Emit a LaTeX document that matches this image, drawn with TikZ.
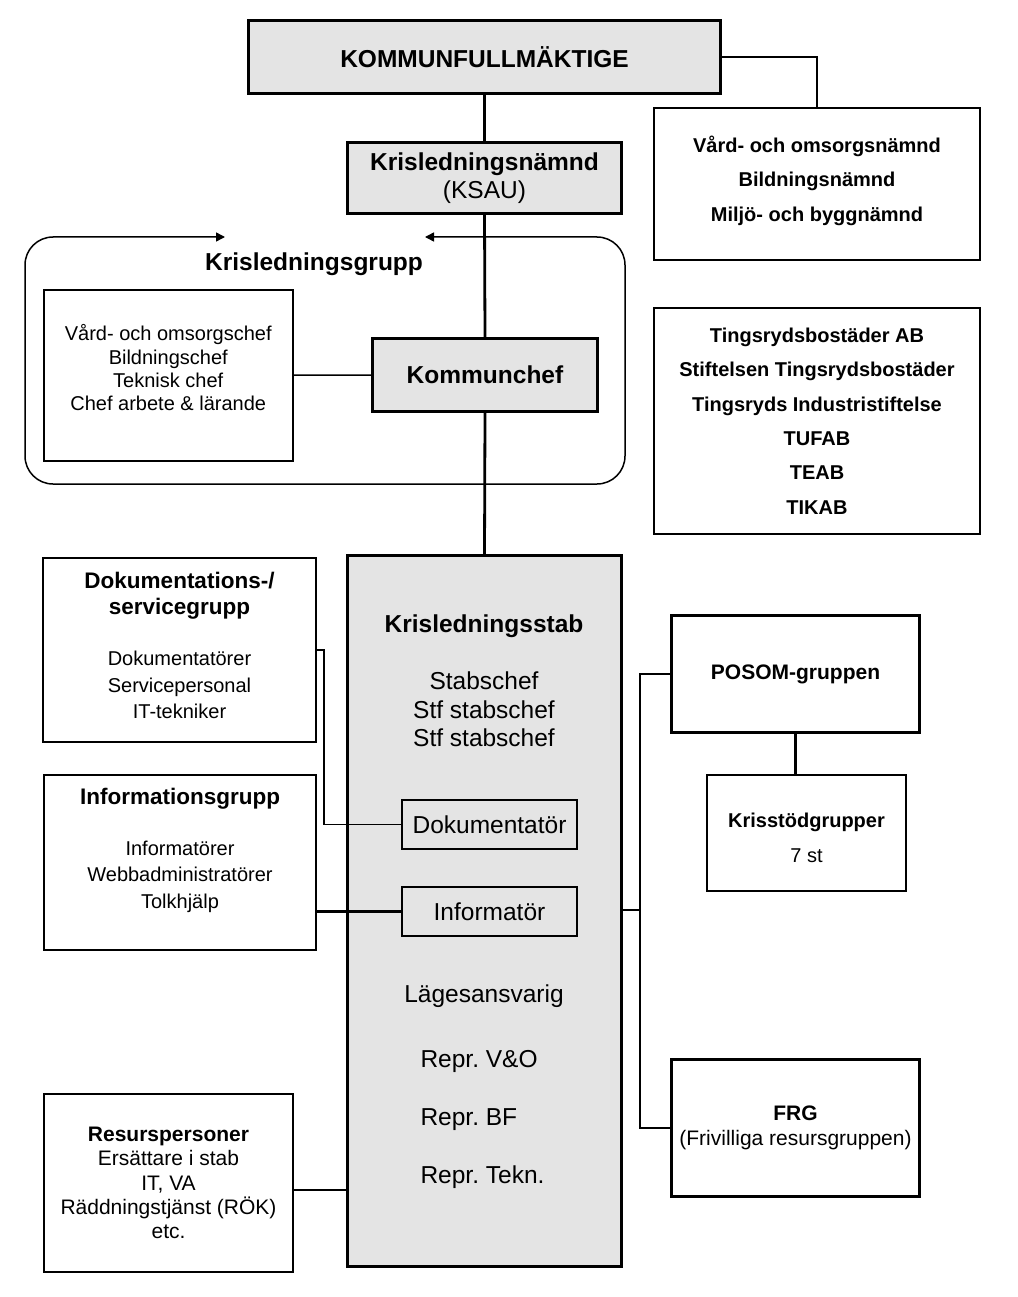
\documentclass[tikz,border=0pt]{standalone}
\usepackage{fontspec}
\setmainfont{Liberation Sans}
\usetikzlibrary{arrows.meta}
\frenchspacing
\definecolor{kgray}{HTML}{E4E4E4}
\tikzset{
  gbox/.style={draw, line width=3pt, fill=kgray, inner sep=0pt, align=center, anchor=north west},
  gsmall/.style={draw, line width=2pt, fill=kgray, inner sep=0pt, align=center, anchor=north west},
  wbox/.style={draw, line width=2pt, fill=white, inner sep=0pt, align=center, anchor=north west},
  wthick/.style={draw, line width=3pt, fill=white, inner sep=0pt, align=center, anchor=north west},
  wthin/.style={draw, line width=1.5pt, fill=white, inner sep=0pt, align=center, anchor=north west},
  conn/.style={line width=2.8pt},
  midconn/.style={line width=2pt},
  thinconn/.style={line width=1.5pt},
  big/.style={font=\fontsize{24.5}{28}\selectfont},
  bigb/.style={font=\bfseries\fontsize{24.5}{28}\selectfont},
}
\begin{document}
\begin{tikzpicture}[x=1pt,y=-1pt]
\useasboundingbox[fill=white] (0,0) rectangle (1017,1297);

% frame of Krisledningsgrupp
\draw[line width=1.5pt, rounded corners=28pt, {Triangle[length=9pt,width=9pt]}-{Triangle[length=9pt,width=9pt]}]
  (225,237) -- (25,237) -- (25,484) -- (625,484) -- (625,237) -- (425,237);
\node[bigb] (klg) at (314,264) {Krisledningsgrupp};

% boxes
\node[gbox, bigb, minimum width=472pt, minimum height=73pt] (kf) at (247,19) {KOMMUNFULLMÄKTIGE};
\node[wbox, minimum width=326pt, minimum height=152pt, font=\bfseries\fontsize{20}{34.5}\selectfont] (nam) at (653,107)
  {Vård- och omsorgsnämnd\\Bildningsnämnd\\Miljö- och byggnämnd\rule[-11pt]{0pt}{0pt}};
\node[gbox, big, minimum width=274pt, minimum height=71pt] (kn) at (346,141)
  {\textbf{Krisledningsnämnd}\\(KSAU)};
\node[gbox, bigb, minimum width=225pt, minimum height=73pt] (kc) at (371,337) {Kommunchef};
\node[wthin, minimum width=249pt, minimum height=171pt, font=\fontsize{20}{23.3}\selectfont] (chefs) at (43,289)
  {Vård- och omsorgschef\\Bildningschef\\Teknisk chef\\Chef arbete \& lärande\rule[-15pt]{0pt}{0pt}};
\node[wbox, minimum width=326pt, minimum height=226pt, font=\bfseries\fontsize{20}{34.4}\selectfont] (comp) at (653,307)
  {Tingsrydsbostäder AB\\Stiftelsen Tingsrydsbostäder\\Tingsryds Industristiftelse\\TUFAB\\TEAB\\TIKAB};

\node[gbox, minimum width=274pt, minimum height=711pt] (stab) at (346,554) {};
\node[bigb] (stabt) at (484,626) {Krisledningsstab};
\node[font=\fontsize{24.5}{28.5}\selectfont, align=center] (stabm) at (484,709.5) {Stabschef\\Stf stabschef\\Stf stabschef};
\node[gsmall, big, minimum width=175pt, minimum height=49pt] (dokm) at (401,799) {Dokumentatör};
\node[gsmall, big, minimum width=175pt, minimum height=49pt] (infom) at (401,886) {Informatör};
\node[big] (lage) at (484,996) {Lägesansvarig};
\node[font=\fontsize{24.5}{58}\selectfont, align=left, anchor=west] (repr) at (417,1119) {Repr. V\&O\\Repr. BF\\Repr. Tekn.};

\node[wbox, minimum width=273pt, minimum height=184pt, font=\fontsize{20}{26.5}\selectfont] (dok) at (42,557)
  {{\bfseries\fontsize{22.5}{27}\selectfont Dokumentations-/}\\{\bfseries\fontsize{22.5}{27}\selectfont servicegrupp}\\[24.5pt]Dokumentatörer\\Servicepersonal\\IT-tekniker\rule[-9pt]{0pt}{0pt}};
\node[wbox, minimum width=272pt, minimum height=175pt, font=\fontsize{20}{26.5}\selectfont] (info) at (43,774)
  {{\bfseries\fontsize{22.5}{27}\selectfont Informationsgrupp}\\[24.5pt]Informatörer\\Webbadministratörer\\Tolkhjälp\rule[-29pt]{0pt}{0pt}};
\node[wbox, minimum width=249pt, minimum height=178pt, font=\fontsize{21}{24.25}\selectfont] (res) at (43,1093)
  {\textbf{Resurspersoner}\\Ersättare i stab\\IT, VA\\Räddningstjänst (RÖK)\\etc.};

\node[wthick, minimum width=248pt, minimum height=117pt, font=\bfseries\fontsize{21}{25}\selectfont] (posom) at (670,614) {POSOM-gruppen};
\node[wbox, minimum width=199pt, minimum height=116pt, font=\fontsize{20}{35}\selectfont] (kst) at (706,774)
  {\rule{0pt}{23.5pt}\textbf{Krisstödgrupper}\\7 st};
\node[wthick, minimum width=248pt, minimum height=137pt, font=\fontsize{21}{25}\selectfont] (frg) at (670,1058)
  {\textbf{FRG}\\(Frivilliga resursgruppen)};

% connectors
\draw[conn] (kf.south) -- (kn.north);
\draw[midconn] (kf.east) -| (nam.north);
\draw[conn] (kn.south) -- (kc.north);
\draw[thinconn] (kc.west) -- (chefs.east);
\draw[conn] (kc.south) -- (stab.north);
\draw[thinconn] (dok.east) -- ++(7,0) |- (dokm.west);
\draw[conn] (info.east |- infom.west) -- (infom.west);
\draw[thinconn] ([yshift=-7pt]res.east) -- ([yshift=-7pt]res.east -| stab.west);
\coordinate (bus) at (640,910);
\draw[conn] (stab.east |- bus) -- (bus);
\draw[conn] (posom.west) -- (posom.west -| bus) |- (frg.west);
\draw[conn] (posom.south) -- (posom.south |- kst.north);
\end{tikzpicture}
\end{document}
